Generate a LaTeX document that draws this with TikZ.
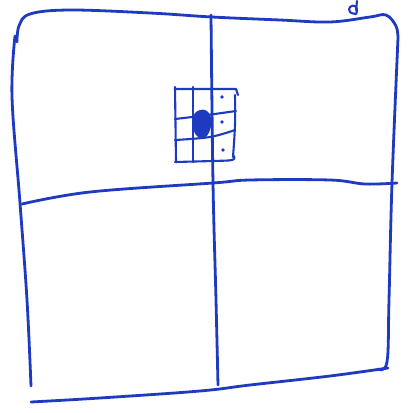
\documentclass[tikz,border=0pt]{standalone}
\usepackage{tikz}
\usetikzlibrary{calc}

\definecolor{inkblue}{RGB}{30,58,192}

\begin{document}
\begin{tikzpicture}[
            x=1pt, y=-1pt,
            % Stili
            pen/.style={draw=inkblue, line width=2.8pt, line cap=round, line join=round},
            thinpen/.style={draw=inkblue, line width=2.1pt, line cap=round, line join=round},
            dotmark/.style={fill=inkblue, circle, inner sep=0pt, minimum size=3.6pt}
        ]
        \useasboundingbox (0,0) rectangle (408,413);

        % Bordo esterno
        \draw [pen] plot[smooth, tension=0.6] coordinates {(17,42) (19,26) (30,14) (70,10) (150,13) (212,17) (280,20) (330,22) (370,17) (386,15) (396,26) (398,38)};
        \draw [pen] plot[smooth, tension=0.6] coordinates {(15,36) (12,97) (20,203) (27,300) (31,386)};
        \draw [pen] plot[smooth, tension=0.6] coordinates {(398,38) (392,183) (389,300) (387,362) (378,369)};
        \draw [pen] plot[smooth, tension=0.6] coordinates {(31,402) (100,398) (200,391) (250,385) (330,376) (388,368)};

        % Croce centrale
        \draw [pen] plot[smooth, tension=0.6] coordinates {(211,15) (213,183) (216,300) (218,385)};
        \draw [pen] plot[smooth, tension=0.6] coordinates {(22,204) (90,192) (213,183) (250,180) (330,180) (365,184) (397,183)};

        % Piccola griglia
        \draw [thinpen] (175,87) -- (176,162);
        \draw [thinpen] (193,87) -- (193,162);
        \draw [thinpen] plot[smooth, tension=0.6] coordinates {(235,95) (235,125) (233,157)};
        \draw [thinpen] (175,89) -- (236,89) -- (238,95);
        \draw [thinpen] plot[smooth, tension=0.6] coordinates {(175,119) (200,116) (236,111)};
        \draw [thinpen] plot[smooth, tension=0.6] coordinates {(175,140) (210,137) (235,130)};
        \draw [thinpen] plot[smooth, tension=0.6] coordinates {(175,162) (212,161) (232,160) (234,156)};

        % Cella piena
        \fill [inkblue] plot[smooth cycle, tension=0.7] coordinates {(195,113) (205,110) (211,118) (210,130) (204,138) (196,135) (193,124)};

        % Punti
        \node (dot_a) [dotmark] at (222,97) {};
        \node (dot_b) [dotmark] at (222,122) {};
        \node (dot_c) [dotmark] at (223,150) {};

        % Segno in alto
        \draw [thinpen] plot[smooth, tension=0.8] coordinates {(356,14) (350,12) (350,7) (355,6) (357,10) (356,14)};
        \draw [thinpen] (356,10) -- (357,1);

    \end{tikzpicture}
\end{document}
